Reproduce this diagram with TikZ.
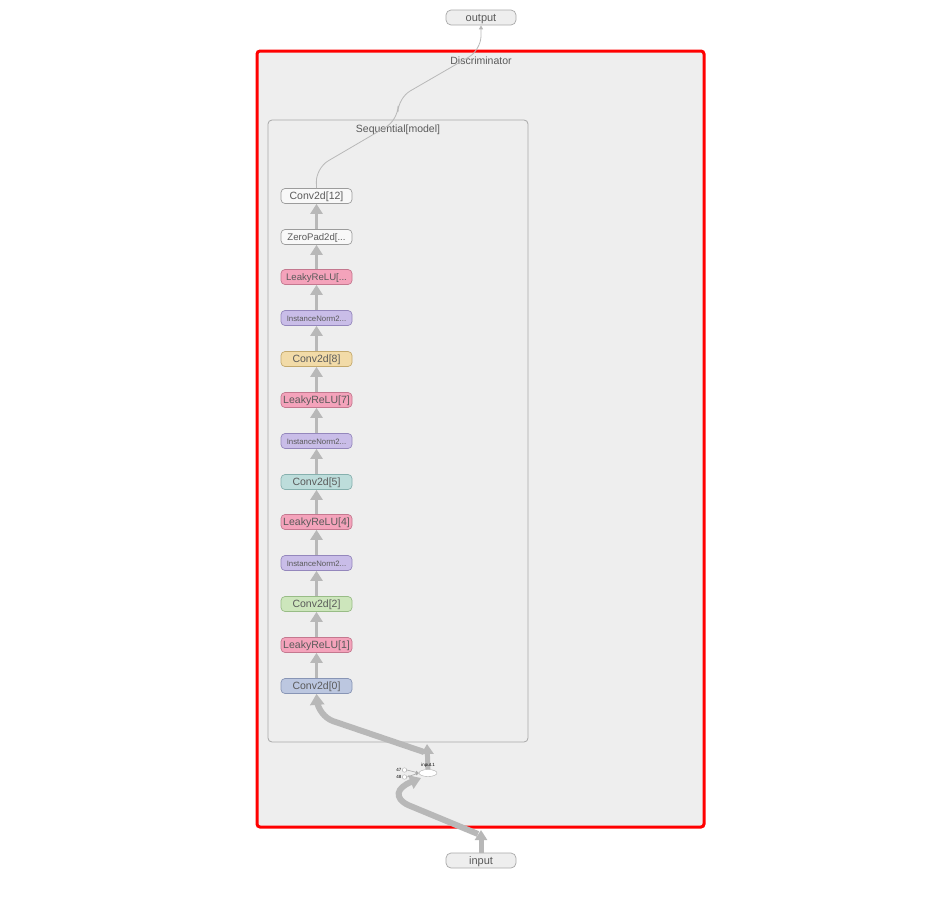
\documentclass[tikz,border=0pt]{standalone}
\usepackage{fontspec}
\setmainfont{Liberation Sans}
\usetikzlibrary{arrows.meta,shapes.geometric}
\definecolor{txt}{HTML}{5A5A5A}
\definecolor{grpfill}{HTML}{EEEEEE}
\definecolor{grpline}{HTML}{A8A8A8}
\definecolor{edgegray}{HTML}{B8B8B8}
\definecolor{pinkF}{HTML}{F4A3BB}\definecolor{pinkD}{HTML}{C4788F}
\definecolor{lavF}{HTML}{C9BDE8}\definecolor{lavD}{HTML}{9487BC}
\definecolor{wheatF}{HTML}{F2DBA8}\definecolor{wheatD}{HTML}{C4A96C}
\definecolor{tealF}{HTML}{BDDDDB}\definecolor{tealD}{HTML}{86B0AE}
\definecolor{greenF}{HTML}{CDE6BC}\definecolor{greenD}{HTML}{98BC86}
\definecolor{blueF}{HTML}{BCC7E0}\definecolor{blueD}{HTML}{8895B5}
\definecolor{whiteF}{HTML}{F8F8F8}\definecolor{whiteD}{HTML}{9C9C9C}
\tikzset{
  op/.style={draw=#1D, line width=0.7pt, fill=#1F, rounded corners=4pt, minimum width=71pt, minimum height=15pt,
    inner sep=0pt, text=txt, text height=0.72em, text depth=0pt, font=\fontsize{10.5}{10.5}\selectfont},
  small/.style={font=\fontsize{7.8}{7.8}\selectfont},
  mid/.style={font=\fontsize{9.6}{9.6}\selectfont},
  io/.style={draw=grpline, line width=0.7pt, fill=grpfill, rounded corners=5pt, minimum width=70pt, minimum height=15pt,
    inner sep=0pt, text=txt, text height=0.72em, text depth=0pt, font=\fontsize{11}{11}\selectfont},
  flow/.style={draw=edgegray, line width=3.8pt, -{Triangle[width=12pt,length=10pt]}},
  bigflow/.style={draw=edgegray, line width=6pt, rounded corners=16pt, -{Triangle[width=14pt,length=11pt]}},
  thinflow/.style={draw=edgegray, line width=0.8pt, rounded corners=14pt, -{Triangle[width=4pt,length=4pt]}},
  grplabel/.style={text=txt, font=\fontsize{10.5}{10.5}\selectfont},
}
\begin{document}
\begin{tikzpicture}[x=1pt,y=-1pt]
\useasboundingbox (0,0) rectangle (952,918);
% outer group
\draw[red, line width=3pt, fill=grpfill, rounded corners=3pt] (257,51) rectangle (704,827);
\node[grplabel] (disc) at (481,61) {Discriminator};
% sequential group
\draw[grpline, line width=0.8pt, fill=grpfill, rounded corners=4pt] (268,120) rectangle (528,742);
\node[grplabel] (seq) at (398,129.5) {Sequential[model]};
% io nodes
\node[io] (out) at (481,17.5) {output};
\node[io] (in) at (481,860.5) {input};
% layer nodes
\node[op=white] (n12) at (316.5,196) {Conv2d[12]};
\node[op=white, mid] (n11) at (316.5,237) {ZeroPad2d[...};
\node[op=pink, mid] (n10) at (316.5,277) {LeakyReLU[...};
\node[op=lav, small] (n9) at (316.5,318) {InstanceNorm2...};
\node[op=wheat] (n8) at (316.5,359) {Conv2d[8]};
\node[op=pink] (n7) at (316.5,400) {LeakyReLU[7]};
\node[op=lav, small] (n6) at (316.5,441) {InstanceNorm2...};
\node[op=teal] (n5) at (316.5,482) {Conv2d[5]};
\node[op=pink] (n4) at (316.5,522) {LeakyReLU[4]};
\node[op=lav, small] (n3) at (316.5,563) {InstanceNorm2...};
\node[op=green] (n2) at (316.5,604) {Conv2d[2]};
\node[op=pink] (n1) at (316.5,645) {LeakyReLU[1]};
\node[op=blue] (n0) at (316.5,686) {Conv2d[0]};
% chain arrows
\foreach \a/\b in {n0/n1,n1/n2,n2/n3,n3/n4,n4/n5,n5/n6,n6/n7,n7/n8,n8/n9,n9/n10,n10/n11,n11/n12}
  \draw[flow] (\a.north) -- (\b.south);
% thick edges at bottom
\coordinate (seqin) at (427,744);
\coordinate (b1) at (318,716);
\coordinate (discin) at (481,830);
\coordinate (b2) at (408,805);
\draw[flow, line width=5pt] (428,769) -- (seqin);
\draw[bigflow] (424,752) -- (b1) -- (n0.south);
\draw[flow, line width=5pt] (in.north) -- (discin);
\draw[draw=edgegray, line width=6pt, -{Triangle[width=14pt,length=11pt]}]
  (478,834) -- (b2) .. controls (394,798) and (396,788) .. (421,778);
% input.1 node and constants
\node[draw=grpline, fill=white, ellipse, minimum width=18pt, minimum height=7pt, inner sep=0pt] (inp) at (428,773) {};
\node[font=\fontsize{4.5}{4.5}\selectfont, anchor=south, inner sep=1pt] (inplab) at (428,768.5) {input.1};
\node[draw=grpline, fill=white, circle, minimum size=4.5pt, inner sep=0pt] (c47) at (404.5,770) {};
\node[draw=grpline, fill=white, circle, minimum size=4.5pt, inner sep=0pt] (c48) at (404.5,777) {};
\node[font=\fontsize{4.5}{4.5}\selectfont, anchor=east, inner sep=0.5pt] (l47) at (c47.west) {47};
\node[font=\fontsize{4.5}{4.5}\selectfont, anchor=east, inner sep=0.5pt] (l48) at (c48.west) {48};
\draw[grpline, line width=0.6pt, -{Triangle[width=3pt,length=3pt]}] (c47.east) -- (inp.west);
\draw[grpline, line width=0.6pt, -{Triangle[width=3pt,length=3pt]}] (c48.east) -- (inp.west);
% thin edge to output
\coordinate (t1) at (316,168);
\coordinate (t2) at (398,120);
\coordinate (t3) at (398,98);
\coordinate (t4) at (481,50);
\draw[thinflow] (n12.north) -- (t1) -- (t2) -- (t3) -- (t4) -- (out.south);
\end{tikzpicture}
\end{document}
